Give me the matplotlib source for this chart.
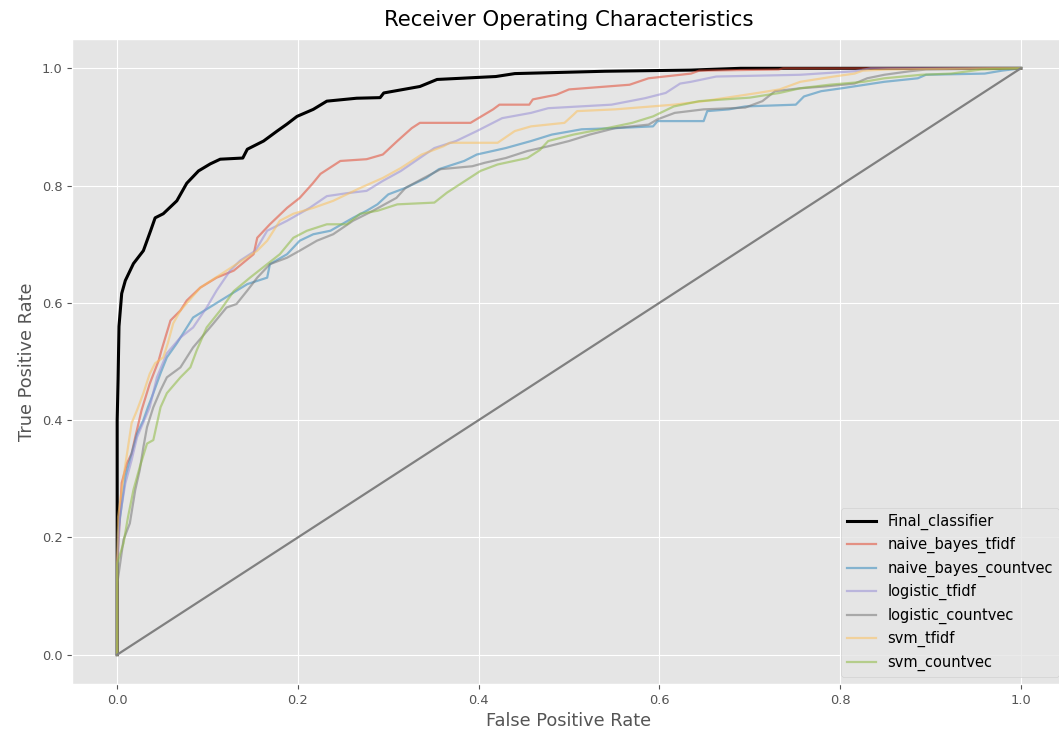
import numpy as np
import matplotlib
matplotlib.use("Agg")
import matplotlib.pyplot as plt

plt.style.use("ggplot")

# estimated ROC points (fpr, tpr)
final_fpr = [0, 0, 0.001, 0.002, 0.005, 0.009, 0.018, 0.029, 0.037, 0.042, 0.051, 0.066, 0.077,
             0.090, 0.103, 0.114, 0.139, 0.144, 0.162, 0.177, 0.188, 0.199, 0.217, 0.232, 0.265,
             0.291, 0.295, 0.335, 0.354, 0.419, 0.440, 0.540, 0.635, 0.690, 1.0]
final_tpr = [0, 0.40, 0.47, 0.56, 0.616, 0.638, 0.667, 0.689, 0.723, 0.745, 0.752, 0.774, 0.804,
             0.825, 0.837, 0.845, 0.847, 0.862, 0.876, 0.893, 0.905, 0.918, 0.930, 0.944, 0.949,
             0.950, 0.958, 0.969, 0.981, 0.986, 0.991, 0.995, 0.997, 1.0, 1.0]

nb_tfidf_fpr = [0, 0, 0.005, 0.011, 0.016, 0.020, 0.027, 0.036, 0.046, 0.049, 0.059, 0.070, 0.077,
                0.092, 0.110, 0.129, 0.151, 0.155, 0.169, 0.188, 0.202, 0.216, 0.225, 0.247, 0.276,
                0.294, 0.310, 0.326, 0.335, 0.391, 0.416, 0.423, 0.456, 0.460, 0.486, 0.500, 0.567,
                0.588, 0.635, 0.644, 0.732, 0.737, 1.0]
nb_tfidf_tpr = [0, 0.156, 0.293, 0.327, 0.343, 0.371, 0.417, 0.462, 0.502, 0.519, 0.570, 0.587, 0.604,
                0.626, 0.643, 0.655, 0.683, 0.711, 0.734, 0.762, 0.779, 0.803, 0.820, 0.842, 0.845,
                0.853, 0.876, 0.898, 0.907, 0.907, 0.930, 0.938, 0.938, 0.947, 0.955, 0.964, 0.972,
                0.983, 0.991, 0.996, 0.998, 1.0, 1.0]

nb_count_fpr = [0, 0, 0.001, 0.009, 0.014, 0.022, 0.029, 0.034, 0.040, 0.048, 0.055, 0.066, 0.084,
                0.144, 0.166, 0.169, 0.188, 0.202, 0.217, 0.236, 0.261, 0.276, 0.288, 0.300, 0.319,
                0.342, 0.356, 0.384, 0.398, 0.430, 0.458, 0.481, 0.514, 0.551, 0.593, 0.598, 0.649,
                0.653, 0.677, 0.695, 0.751, 0.760, 0.779, 0.802, 0.849, 0.886, 0.895, 0.960, 0.979, 1.0]
nb_count_tpr = [0, 0.12, 0.207, 0.303, 0.332, 0.377, 0.400, 0.422, 0.446, 0.480, 0.507, 0.531, 0.575,
                0.632, 0.643, 0.666, 0.683, 0.706, 0.717, 0.723, 0.745, 0.757, 0.768, 0.785, 0.796,
                0.813, 0.828, 0.842, 0.853, 0.864, 0.876, 0.887, 0.896, 0.898, 0.901, 0.910, 0.910,
                0.927, 0.930, 0.935, 0.938, 0.952, 0.961, 0.966, 0.977, 0.983, 0.989, 0.991, 0.996, 1.0]

log_tfidf_fpr = [0, 0, 0.003, 0.009, 0.016, 0.022, 0.036, 0.044, 0.055, 0.070, 0.084, 0.099, 0.110,
                 0.125, 0.136, 0.153, 0.166, 0.188, 0.213, 0.232, 0.254, 0.276, 0.294, 0.314, 0.351,
                 0.375, 0.398, 0.426, 0.458, 0.477, 0.547, 0.584, 0.607, 0.623, 0.635, 0.663, 0.756,
                 0.816, 0.834, 1.0]
log_tfidf_tpr = [0, 0.14, 0.235, 0.292, 0.332, 0.371, 0.422, 0.473, 0.514, 0.541, 0.558, 0.592, 0.621,
                 0.655, 0.672, 0.689, 0.723, 0.740, 0.762, 0.782, 0.787, 0.791, 0.808, 0.825, 0.864,
                 0.876, 0.893, 0.915, 0.924, 0.932, 0.938, 0.949, 0.958, 0.974, 0.977, 0.986, 0.989,
                 0.995, 1.0, 1.0]

log_count_fpr = [0, 0, 0.007, 0.014, 0.020, 0.025, 0.029, 0.033, 0.040, 0.048, 0.055, 0.070, 0.084,
                 0.106, 0.121, 0.132, 0.144, 0.155, 0.169, 0.188, 0.202, 0.221, 0.239, 0.261, 0.283,
                 0.309, 0.319, 0.337, 0.358, 0.393, 0.407, 0.430, 0.454, 0.477, 0.500, 0.523, 0.551,
                 0.588, 0.598, 0.617, 0.649, 0.695, 0.714, 0.728, 0.756, 0.783, 0.816, 0.830, 0.849,
                 0.877, 0.895, 1.0]
log_count_tpr = [0, 0.12, 0.196, 0.224, 0.281, 0.315, 0.354, 0.388, 0.422, 0.451, 0.473, 0.490, 0.524,
                 0.564, 0.592, 0.598, 0.621, 0.643, 0.666, 0.677, 0.689, 0.706, 0.717, 0.740, 0.757,
                 0.779, 0.796, 0.811, 0.828, 0.833, 0.839, 0.847, 0.859, 0.867, 0.876, 0.887, 0.898,
                 0.904, 0.913, 0.924, 0.930, 0.933, 0.944, 0.961, 0.966, 0.969, 0.974, 0.983, 0.989,
                 0.995, 0.998, 1.0]

svm_tfidf_fpr = [0, 0, 0.001, 0.007, 0.016, 0.022, 0.029, 0.036, 0.042, 0.051, 0.056, 0.062, 0.070,
                 0.092, 0.121, 0.155, 0.166, 0.180, 0.195, 0.217, 0.239, 0.269, 0.294, 0.314, 0.337,
                 0.361, 0.368, 0.421, 0.440, 0.458, 0.495, 0.505, 0.509, 0.551, 0.616, 0.649, 0.709,
                 0.733, 0.756, 0.793, 0.816, 0.825, 0.853, 0.969, 1.0]
svm_tfidf_tpr = [0, 0.15, 0.235, 0.303, 0.395, 0.417, 0.446, 0.479, 0.497, 0.507, 0.531, 0.565, 0.587,
                 0.626, 0.655, 0.689, 0.706, 0.740, 0.752, 0.762, 0.774, 0.796, 0.813, 0.830, 0.853,
                 0.867, 0.873, 0.873, 0.893, 0.901, 0.907, 0.921, 0.927, 0.930, 0.938, 0.944, 0.958,
                 0.964, 0.977, 0.986, 0.991, 0.996, 0.998, 1.0, 1.0]

svm_count_fpr = [0, 0, 0.007, 0.012, 0.018, 0.025, 0.033, 0.040, 0.048, 0.055, 0.070, 0.081, 0.088,
                 0.099, 0.114, 0.129, 0.147, 0.166, 0.180, 0.195, 0.210, 0.232, 0.254, 0.269, 0.288,
                 0.310, 0.351, 0.365, 0.402, 0.421, 0.454, 0.468, 0.477, 0.505, 0.542, 0.570, 0.593,
                 0.616, 0.644, 0.700, 0.733, 0.756, 0.788, 0.826, 0.849, 0.890, 0.923, 0.956, 1.0]
svm_count_tpr = [0, 0.156, 0.190, 0.235, 0.281, 0.320, 0.360, 0.366, 0.422, 0.446, 0.473, 0.490, 0.519,
                 0.558, 0.587, 0.620, 0.643, 0.666, 0.683, 0.711, 0.723, 0.734, 0.734, 0.752, 0.757,
                 0.768, 0.771, 0.788, 0.825, 0.836, 0.847, 0.861, 0.876, 0.887, 0.898, 0.907, 0.918,
                 0.935, 0.944, 0.950, 0.958, 0.966, 0.972, 0.977, 0.983, 0.989, 0.991, 0.998, 1.0]

curves = [
    ("naive_bayes_tfidf", nb_tfidf_fpr, nb_tfidf_tpr),
    ("naive_bayes_countvec", nb_count_fpr, nb_count_tpr),
    ("logistic_tfidf", log_tfidf_fpr, log_tfidf_tpr),
    ("logistic_countvec", log_count_fpr, log_count_tpr),
    ("svm_tfidf", svm_tfidf_fpr, svm_tfidf_tpr),
    ("svm_countvec", svm_count_fpr, svm_count_tpr),
]

fig = plt.figure(figsize=(10.59, 7.36), dpi=100)
ax = fig.add_axes([72 / 1059, 1 - 684 / 736, 994 / 1059, 645 / 736])

ax.plot(final_fpr, final_tpr, color="black", lw=2.2, label="Final_classifier")
for name, fpr, tpr in curves:
    ax.plot(fpr, tpr, lw=1.6, alpha=0.55, label=name)
ax.plot([0, 1], [0, 1], color="gray", lw=1.6)

ax.set_xlim(-0.05, 1.05)
ax.set_ylim(-0.05, 1.05)
ax.tick_params(labelsize=9.4)
ax.set_title("Receiver Operating Characteristics", fontsize=15.3, pad=9)
ax.set_xlabel("False Positive Rate", fontsize=12.8)
ax.set_ylabel("True Positive Rate", fontsize=12.8)
ax.legend(loc="lower right", fontsize=10.5)

fig.savefig("out.png", dpi=100)
